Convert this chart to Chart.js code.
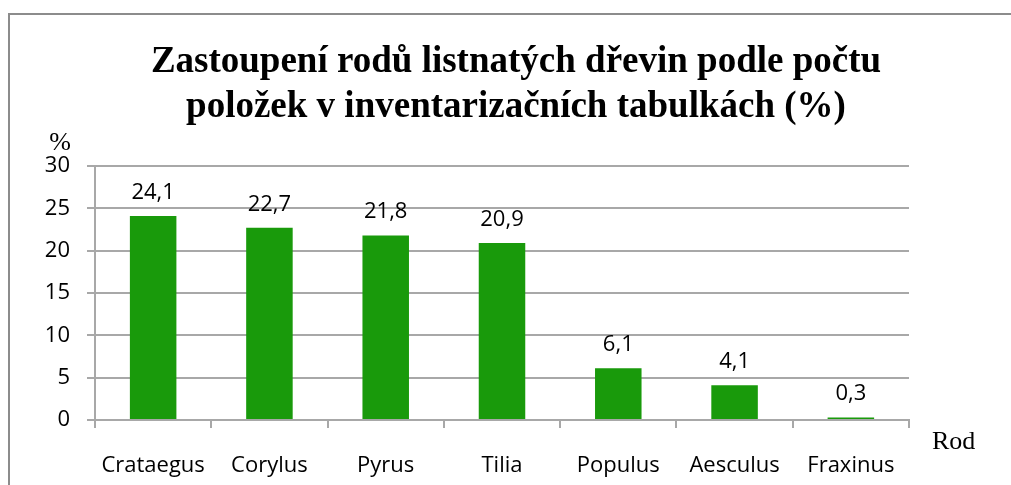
<!DOCTYPE html>
<html>
<head>
<meta charset="utf-8">
<script src="https://cdn.jsdelivr.net/npm/chart.js@4"></script>
<style>
html,body{margin:0;padding:0;background:#fff;}
canvas{display:block;}
</style>
</head>
<body>
<canvas id="c" width="1011" height="485"></canvas>
<script>
const categories = ["Crataegus", "Corylus", "Pyrus", "Tilia", "Populus", "Aesculus", "Fraxinus"];
const values = [24.1, 22.7, 21.8, 20.9, 6.1, 4.1, 0.3];
const valueLabels = ["24,1", "22,7", "21,8", "20,9", "6,1", "4,1", "0,3"];
const yTicks = [0, 5, 10, 15, 20, 25, 30];
const titleLines = ["Zastoupení rodů listnatých dřevin podle počtu", "položek v inventarizačních tabulkách (%)"];
const yAxisLabel = "%";
const xAxisLabel = "Rod";

const GRID = "#a8a8a8";
const TICK_FONT = {family: "'Open Sans'", size: 22};

const decor = {
  id: "decor",
  beforeDraw(chart) {
    const ctx = chart.ctx;
    ctx.save();
    ctx.fillStyle = "#fff";
    ctx.fillRect(0, 0, chart.width, chart.height);
    // frame
    ctx.strokeStyle = "#8c8c8c";
    ctx.lineWidth = 2;
    ctx.beginPath();
    ctx.moveTo(9, chart.height);
    ctx.lineTo(9, 14);
    ctx.lineTo(chart.width, 14);
    ctx.stroke();
    // title
    ctx.fillStyle = "#000";
    ctx.font = "bold 37px 'Liberation Serif'";
    ctx.textAlign = "center";
    ctx.textBaseline = "alphabetic";
    ctx.fillText(titleLines[0], 516, 72);
    ctx.fillText(titleLines[1], 516, 117);
    ctx.restore();
  },
  afterDraw(chart) {
    const ctx = chart.ctx;
    const ya = chart.scales.y, xa = chart.scales.x;
    ctx.save();
    ctx.fillStyle = "#000";
    ctx.font = "26px 'Liberation Serif'";
    ctx.textAlign = "center";
    ctx.textBaseline = "alphabetic";
    ctx.fillText(yAxisLabel, 60, ya.top - 16);
    ctx.font = "26px 'Liberation Serif'";
    ctx.textAlign = "left";
    ctx.fillText(xAxisLabel, xa.right + 23, ya.bottom + 29);
    // value labels
    ctx.font = "22px 'Open Sans'";
    ctx.fillStyle = "#000";
    ctx.textAlign = "center";
    const meta = chart.getDatasetMeta(0);
    meta.data.forEach((bar, i) => {
      ctx.fillText(valueLabels[i], bar.x, bar.y - 17);
    });
    ctx.restore();
  }
};

new Chart(document.getElementById("c"), {
  type: "bar",
  data: {
    labels: categories,
    datasets: [{
      data: values,
      backgroundColor: "#199a0b",
      borderWidth: 0,
      barPercentage: 0.4,
      categoryPercentage: 1.0
    }]
  },
  options: {
    responsive: false,
    devicePixelRatio: 1,
    animation: false,
    layout: {padding: {left: 0, right: 102, top: 166, bottom: 0}},
    plugins: {legend: {display: false}, title: {display: false}, tooltip: {enabled: false}},
    scales: {
      x: {
        offset: true,
        grid: {display: true, drawOnChartArea: false, drawTicks: true, tickLength: 8, color: GRID, lineWidth: 2, offset: true},
        border: {display: true, color: GRID, width: 2},
        ticks: {font: TICK_FONT, color: "#000", padding: 25, maxRotation: 0, autoSkip: false},
        afterFit(scale) { scale.height = 65; }
      },
      y: {
        min: 0, max: 30,
        afterBuildTicks(scale) { scale.ticks = yTicks.map(v => ({value: v})); },
        grid: {color: GRID, lineWidth: 2, tickLength: 8},
        border: {display: true, color: GRID, width: 2},
        ticks: {font: TICK_FONT, color: "#000", padding: 17},
        afterFit(scale) { scale.width = 95; }
      }
    }
  },
  plugins: [decor]
});
</script>
</body>
</html>
